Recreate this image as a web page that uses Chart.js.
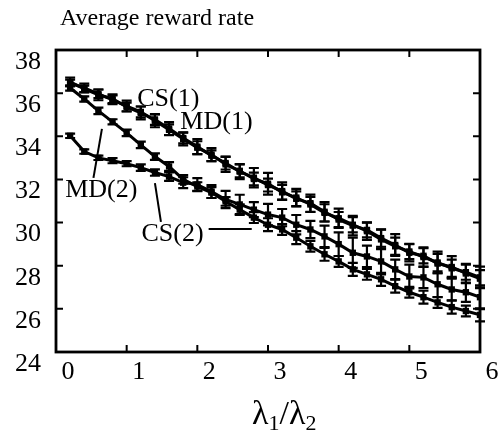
<!DOCTYPE html>
<html>
<head>
<meta charset="utf-8">
<script src="https://cdn.jsdelivr.net/npm/chart.js@4"></script>
<style>
  html, body { margin: 0; padding: 0; background: #fff; }
  #wrap { width: 501px; height: 434px; }
</style>
</head>
<body>
<div id="wrap"><canvas id="rewardChart"></canvas></div>
<script>
// lambda1/lambda2 sample points
const ratios = [0.2, 0.4, 0.6, 0.8, 1.0, 1.2, 1.4, 1.6, 1.8, 2.0,
                2.2, 2.4, 2.6, 2.8, 3.0, 3.2, 3.4, 3.6, 3.8, 4.0,
                4.2, 4.4, 4.6, 4.8, 5.0, 5.2, 5.4, 5.6, 5.8, 6.0];

// average reward rate per policy
const cs1 = [36.47, 36.24, 35.97, 35.69, 35.40, 35.13, 34.72, 34.30, 33.88, 33.47,
             33.15, 32.70, 32.40, 32.02, 31.80, 31.40, 31.16, 30.84, 30.45, 30.20,
             29.90, 29.60, 29.22, 28.90, 28.66, 28.40, 28.15, 27.88, 27.70, 27.46];
const md1 = [36.52, 36.20, 35.92, 35.74, 35.36, 35.08, 34.78, 34.36, 33.92, 33.52,
             33.10, 32.76, 32.36, 32.08, 31.74, 31.46, 31.10, 30.90, 30.50, 30.14,
             29.86, 29.66, 29.28, 28.96, 28.60, 28.46, 28.10, 27.94, 27.64, 27.40];
const md2 = [36.24, 35.73, 35.18, 34.67, 34.16, 33.60, 33.06, 32.60, 32.00, 31.67,
             31.39, 30.98, 30.60, 30.23, 29.90, 29.68, 29.30, 28.90, 28.53, 28.20,
             27.83, 27.60, 27.37, 27.05, 26.77, 26.54, 26.30, 26.08, 25.90, 25.72];
const cs2 = [34.02, 33.29, 33.00, 32.87, 32.73, 32.55, 32.32, 32.13, 31.85, 31.76,
             31.44, 31.07, 30.84, 30.60, 30.37, 30.23, 29.90, 29.68, 29.36, 29.00,
             28.60, 28.43, 28.20, 27.83, 27.50, 27.46, 27.14, 26.90, 26.77, 26.54];

// half widths of the error bars
const cs1Err = [0.15, 0.20, 0.20, 0.20, 0.25, 0.25, 0.30, 0.25, 0.30, 0.30,
                0.30, 0.35, 0.30, 0.30, 0.50, 0.35, 0.40, 0.35, 0.40, 0.45,
                0.35, 0.40, 0.45, 0.40, 0.35, 0.45, 0.50, 0.40, 0.35, 0.50];
const md1Err = [0.20, 0.15, 0.25, 0.20, 0.20, 0.30, 0.25, 0.30, 0.25, 0.35,
                0.25, 0.30, 0.35, 0.45, 0.30, 0.40, 0.35, 0.40, 0.45, 0.35,
                0.45, 0.35, 0.40, 0.50, 0.40, 0.35, 0.45, 0.50, 0.45, 0.40];
const md2Err = [0.12, 0.12, 0.15, 0.12, 0.15, 0.15, 0.15, 0.20, 0.20, 0.20,
                0.25, 0.20, 0.25, 0.25, 0.30, 0.25, 0.30, 0.25, 0.30, 0.25,
                0.30, 0.25, 0.30, 0.30, 0.25, 0.30, 0.25, 0.30, 0.25, 0.30];
const cs2Err = [0.10, 0.10, 0.10, 0.12, 0.12, 0.15, 0.15, 0.20, 0.25, 0.30,
                0.30, 0.40, 0.45, 0.35, 0.50, 0.40, 0.45, 0.40, 0.50, 0.55,
                0.70, 0.50, 0.60, 0.45, 0.55, 0.50, 0.60, 0.50, 0.45, 0.55];

const xTicks = [0, 1, 2, 3, 4, 5, 6];
const yTicks = [24, 26, 28, 30, 32, 34, 36, 38];

// curve labels and their pointer strokes, in data units
const notes = [
  { text: 'CS(1)', x: 1.15, y: 35.70 },
  { text: 'MD(1)', x: 1.76, y: 34.64 },
  { text: 'MD(2)', x: 0.13, y: 31.50 },
  { text: 'CS(2)', x: 1.21, y: 29.47 }
];
const pointers = [
  [[0.53, 32.07], [0.65, 34.34]],
  [[1.40, 31.83], [1.485, 30.03]],
  [[2.16, 29.70], [2.77, 29.70]]
];

const serif = '"Liberation Serif", "Times New Roman", serif';

function series(label, vals, errs) {
  return {
    label,
    data: ratios.map((r, i) => ({ x: r, y: vals[i] })),
    errors: errs,
    borderColor: '#000',
    backgroundColor: '#000',
    borderWidth: 3,
    pointStyle: 'rect',
    pointRadius: 4.5,
    pointBorderWidth: 0,
    tension: 0
  };
}

function text(ctx, s, x, y, size) {
  ctx.font = size + 'px ' + serif;
  ctx.fillText(s, x, y);
  return ctx.measureText(s).width;
}

const decorations = {
  id: 'decorations',
  afterDatasetsDraw(chart) {
    const { ctx, chartArea: a, scales: { x, y } } = chart;
    ctx.save();
    ctx.strokeStyle = '#000';
    ctx.fillStyle = '#000';

    // error bars
    ctx.lineWidth = 2.2;
    chart.data.datasets.forEach(ds => {
      ds.data.forEach((p, i) => {
        const px = x.getPixelForValue(p.x);
        const lo = y.getPixelForValue(p.y - ds.errors[i]);
        const hi = y.getPixelForValue(p.y + ds.errors[i]);
        ctx.beginPath();
        ctx.moveTo(px, lo); ctx.lineTo(px, hi);
        ctx.moveTo(px - 5, lo); ctx.lineTo(px + 5, lo);
        ctx.moveTo(px - 5, hi); ctx.lineTo(px + 5, hi);
        ctx.stroke();
      });
    });

    // frame with inward ticks
    ctx.lineWidth = 2.8;
    ctx.strokeRect(a.left, a.top, a.width, a.height);
    ctx.lineWidth = 2;
    ctx.beginPath();
    x.ticks.forEach(t => {
      const px = x.getPixelForValue(t.value);
      ctx.moveTo(px, a.bottom); ctx.lineTo(px, a.bottom - 7);
      ctx.moveTo(px, a.top); ctx.lineTo(px, a.top + 7);
    });
    y.ticks.forEach(t => {
      const py = y.getPixelForValue(t.value);
      ctx.moveTo(a.left, py); ctx.lineTo(a.left + 7, py);
      ctx.moveTo(a.right, py); ctx.lineTo(a.right - 7, py);
    });
    ctx.stroke();

    // pointers
    ctx.lineWidth = 2;
    pointers.forEach(([p, q]) => {
      ctx.beginPath();
      ctx.moveTo(x.getPixelForValue(p[0]), y.getPixelForValue(p[1]));
      ctx.lineTo(x.getPixelForValue(q[0]), y.getPixelForValue(q[1]));
      ctx.stroke();
    });

    // curve labels
    ctx.textBaseline = 'middle';
    ctx.textAlign = 'left';
    notes.forEach(n => {
      text(ctx, n.text, x.getPixelForValue(n.x), y.getPixelForValue(n.y), 26);
    });

    // y title
    ctx.textBaseline = 'alphabetic';
    text(ctx, 'Average reward rate', 60, 25, 24);

    // x title: lambda1/lambda2 with subscripts
    const parts = [['λ', 34, 0], ['1', 22, 6], ['/', 34, 0], ['λ', 34, 0], ['2', 22, 6]];
    let tx = 252;
    parts.forEach(([s, size, dy]) => {
      tx += text(ctx, s, tx, 424 + dy, size);
    });
    ctx.restore();
  }
};

new Chart(document.getElementById('rewardChart'), {
  type: 'line',
  data: {
    datasets: [
      series('CS(1)', cs1, cs1Err),
      series('MD(1)', md1, md1Err),
      series('MD(2)', md2, md2Err),
      series('CS(2)', cs2, cs2Err)
    ]
  },
  options: {
    responsive: true,
    maintainAspectRatio: false,
    animation: false,
    layout: { padding: { top: 50, right: 21, left: 0, bottom: 0 } },
    plugins: {
      legend: { display: false },
      tooltip: { enabled: false }
    },
    scales: {
      x: {
        type: 'linear',
        min: 0,
        max: 6,
        afterFit: s => { s.height = 82; },
        afterBuildTicks: s => { s.ticks = xTicks.map(v => ({ value: v })); },
        grid: { display: false, drawTicks: false },
        border: { display: false },
        ticks: {
          color: '#000',
          font: { family: serif, size: 26 },
          padding: 5,
          labelOffset: 12,
          maxRotation: 0
        }
      },
      y: {
        min: 24,
        max: 38,
        afterFit: s => { s.width = 56; },
        afterBuildTicks: s => { s.ticks = yTicks.map(v => ({ value: v })); },
        grid: { display: false, drawTicks: false },
        border: { display: false },
        ticks: {
          color: '#000',
          font: { family: serif, size: 26 },
          padding: 15,
          labelOffset: 12
        }
      }
    }
  },
  plugins: [decorations]
});
</script>
</body>
</html>
